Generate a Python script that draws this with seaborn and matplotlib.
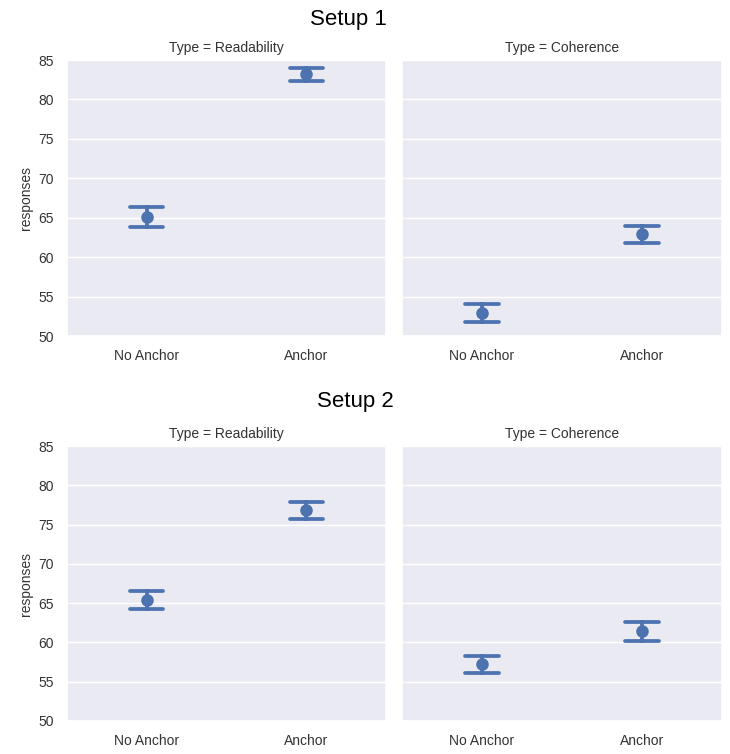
import numpy as np
import pandas as pd
import matplotlib
matplotlib.use("Agg")
import matplotlib.pyplot as plt
import seaborn as sns

setups = ["Setup 1", "Setup 2"]
types = ["Readability", "Coherence"]
conditions = ["No Anchor", "Anchor"]

# mean, lower, upper per setup/type/condition
s1_read_mean = [65.1, 83.2]
s1_read_low = [63.8, 82.4]
s1_read_high = [66.3, 84.0]
s1_coh_mean = [52.9, 62.9]
s1_coh_low = [51.75, 61.8]
s1_coh_high = [54.05, 63.95]
s2_read_mean = [65.45, 76.8]
s2_read_low = [64.3, 75.7]
s2_read_high = [66.6, 77.85]
s2_coh_mean = [57.25, 61.45]
s2_coh_low = [56.1, 60.15]
s2_coh_high = [58.25, 62.6]

table = {
    ("Setup 1", "Readability"): (s1_read_mean, s1_read_low, s1_read_high),
    ("Setup 1", "Coherence"): (s1_coh_mean, s1_coh_low, s1_coh_high),
    ("Setup 2", "Readability"): (s2_read_mean, s2_read_low, s2_read_high),
    ("Setup 2", "Coherence"): (s2_coh_mean, s2_coh_low, s2_coh_high),
}
rows = []
for (s, t), (m, lo, hi) in table.items():
    for i, c in enumerate(conditions):
        for v in (lo[i], m[i], hi[i]):
            rows.append({"Setup": s, "Type": t, "Condition": c, "responses": v})
df = pd.DataFrame(rows)

sns.set_theme(style="darkgrid")
plt.rcParams["font.family"] = ["Liberation Sans", "DejaVu Sans"]

fig = plt.figure(figsize=(7.3, 7.54), dpi=100)
W, H = 730.0, 754.0
cols_x = [(67, 386), (402, 722)]
rows_y = [(60, 336), (446, 721)]
blue = "#4C72B0"

for r, s in enumerate(setups):
    y0, y1 = rows_y[r]
    for c, t in enumerate(types):
        x0, x1 = cols_x[c]
        ax = fig.add_axes([x0 / W, 1 - y1 / H, (x1 - x0) / W, (y1 - y0) / H])
        sub = df[(df.Setup == s) & (df.Type == t)]
        sns.pointplot(data=sub, x="Condition", y="responses", order=conditions,
                      estimator=np.median, errorbar=lambda v: (v.min(), v.max()),
                      capsize=0.21, color=blue, linestyle="none", markers="o",
                      markersize=7, err_kws={"linewidth": 2.7, "solid_capstyle": "round"},
                      ax=ax)
        ax.set_ylim(50, 85)
        ax.set_yticks(np.arange(50, 86, 5))
        ax.set_xlabel("")
        ax.set_title(f"Type = {t}", fontsize=10, color=".2")
        ax.tick_params(labelsize=10, colors=".2")
        ax.xaxis.grid(False)
        if c == 0:
            ax.set_ylabel("responses", fontsize=10, color=".2")
        else:
            ax.set_ylabel("")
            ax.set_yticklabels([])
    ty = 20 if r == 0 else 402
    tx = 348 if r == 0 else 355
    fig.text(tx / W, 1 - ty / H, s, ha="center", va="center", fontsize=16, color="black")

fig.savefig("out.png", dpi=100)
